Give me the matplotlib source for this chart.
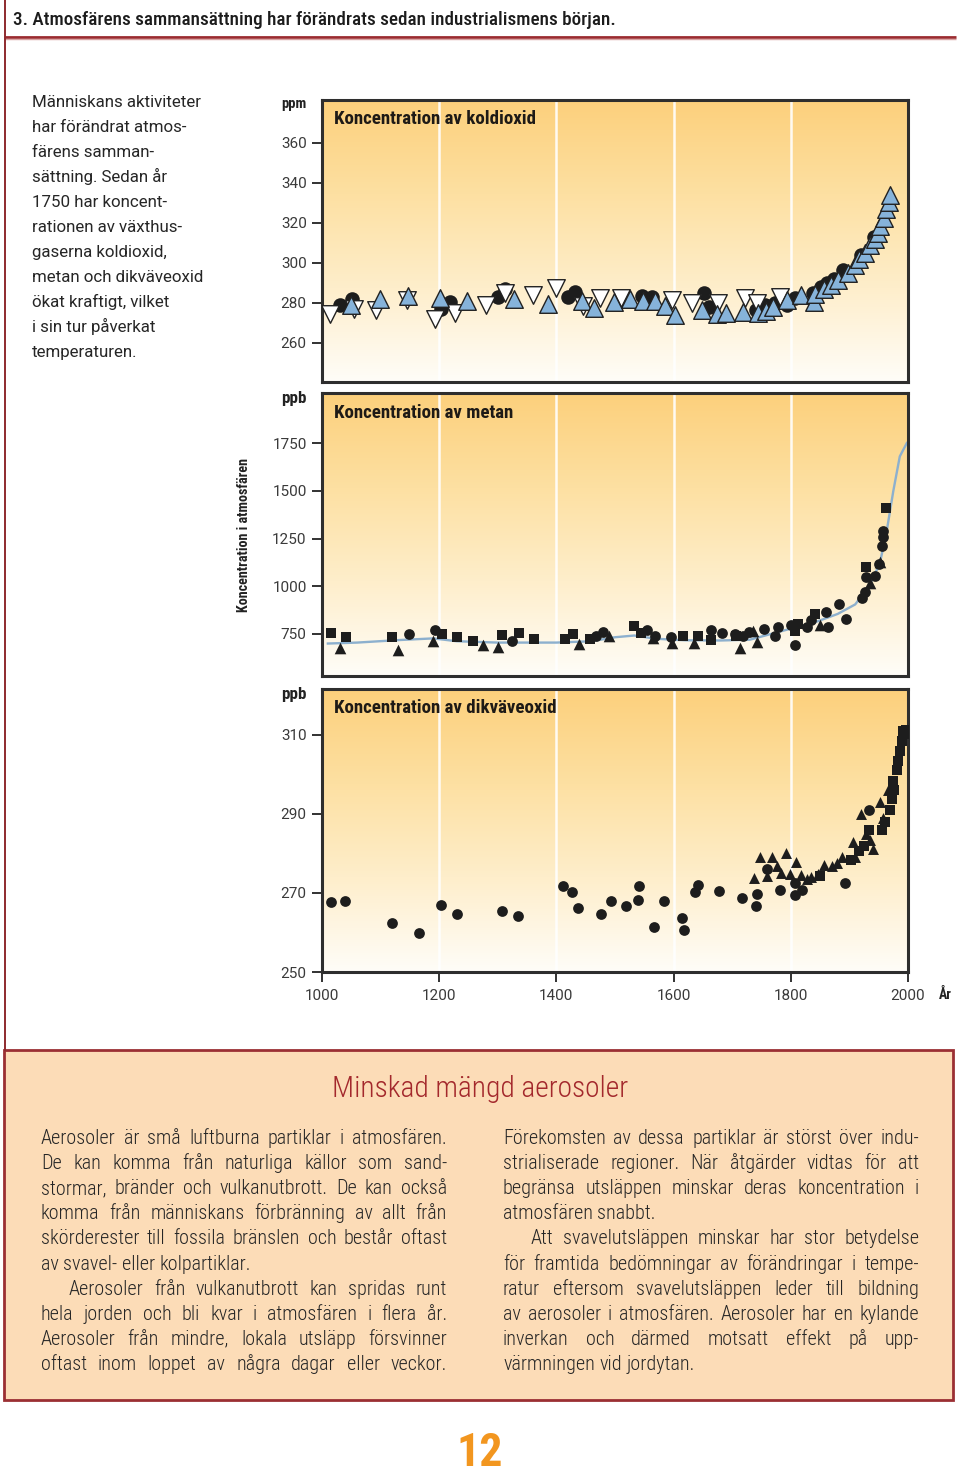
import matplotlib
matplotlib.use("Agg")
import matplotlib.pyplot as plt
import matplotlib.font_manager as fm
from matplotlib.colors import LinearSegmentedColormap
from matplotlib.patches import Rectangle
import numpy as np

# ---------------- data ----------------
years_ticks = [1000, 1200, 1400, 1600, 1800, 2000]
grid_years = [1200, 1400, 1600, 1800]

co2_ticks = [260, 280, 300, 320, 340, 360]
co2_circ_yr = [1031, 1052, 1203, 1218, 1301, 1313, 1420, 1431, 1546, 1563, 1652, 1661,
               1740, 1756, 1773, 1793, 1808, 1838, 1851, 1861, 1874, 1889, 1920, 1942]
co2_circ_val = [279, 281.8, 277, 280.3, 282.8, 286.8, 282.8, 285.5, 283.7, 283.2, 285.2, 277.8,
                276.5, 279, 280, 279, 282.3, 285.2, 288.2, 289.8, 291.8, 296.5, 304, 313.2]
co2_wt_yr = [1014, 1055, 1093, 1145, 1192, 1227, 1280, 1313, 1360, 1399, 1446, 1474,
             1510, 1598, 1631, 1676, 1721, 1742, 1781]
co2_wt_val = [274.5, 277.2, 276.5, 281.5, 271.8, 275.2, 279, 285.2, 283.8, 287.5, 278.5, 282.3,
              282.5, 281.4, 280.2, 280, 282.3, 280, 283.1]
co2_bt_yr = [1050, 1099, 1146, 1201, 1247, 1328, 1386, 1444, 1465, 1499, 1526, 1548,
             1568, 1585, 1602, 1648, 1674, 1689, 1719, 1744, 1757, 1770, 1793, 1818,
             1840, 1842, 1856, 1869, 1880, 1897, 1910, 1916, 1926, 1936, 1943, 1949,
             1952, 1959, 1963, 1967, 1970]
co2_bt_val = [279, 281.8, 283.5, 282.3, 281.2, 281.8, 279.3, 281, 277.7, 280.5, 282, 281.2,
              281.2, 278.5, 274, 276.6, 274.5, 275.2, 275.7, 275.2, 276, 278.2, 281.5, 284,
              280.7, 284.5, 286.8, 289, 291.5, 295.2, 299, 301.8, 305.2, 309, 312, 315.2,
              318.5, 322.7, 326.8, 330.7, 334]

ch4_ticks = [750, 1000, 1250, 1500, 1750]
ch4_sq_yr = [1016, 1041, 1119, 1204, 1231, 1257, 1308, 1337, 1362, 1415, 1429, 1457,
             1532, 1545, 1616, 1641, 1663, 1706, 1808, 1812, 1842, 1928, 1962]
ch4_sq_val = [757, 736, 734, 748, 734, 715, 745, 757, 724, 726, 748, 723,
              790, 755, 738, 738, 720, 738, 764, 802, 856, 1101, 1411]
ch4_tri_yr = [1031, 1130, 1190, 1274, 1301, 1439, 1489, 1565, 1597, 1634, 1713, 1736,
              1742, 1849, 1935, 1952]
ch4_tri_val = [675, 668, 715, 692, 683, 698, 741, 727, 705, 703, 675, 764,
               710, 797, 1015, 1129]
ch4_circ_yr = [1148, 1192, 1324, 1467, 1480, 1554, 1569, 1595, 1663, 1682, 1705, 1718,
               1728, 1755, 1773, 1779, 1801, 1807, 1828, 1834, 1860, 1863, 1882, 1895,
               1921, 1927, 1928, 1943, 1951, 1955, 1957, 1958]
ch4_circ_val = [750, 769, 712, 741, 759, 773, 738, 734, 769, 755, 750, 741,
                760, 776, 741, 786, 799, 692, 786, 825, 863, 786, 905, 827,
                940, 972, 1050, 1055, 1116, 1211, 1256, 1291]
ch4_fit_yr = [1010, 1060, 1130, 1190, 1230, 1300, 1400, 1460, 1500, 1533, 1570, 1620,
              1680, 1730, 1760, 1800, 1840, 1880, 1910, 1935, 1952, 1964, 1975, 1986, 1998]
ch4_fit_val = [700, 705, 718, 727, 712, 705, 705, 712, 733, 742, 725, 717,
               716, 720, 745, 778, 810, 855, 905, 1010, 1120, 1295, 1500, 1680, 1750]

n2o_ticks = [250, 270, 290, 310]
n2o_circ_yr = [1016, 1039, 1120, 1165, 1203, 1230, 1307, 1335, 1411, 1427, 1437, 1476,
               1494, 1518, 1540, 1541, 1567, 1584, 1615, 1618, 1636, 1641, 1678, 1716,
               1740, 1743, 1759, 1782, 1808, 1808, 1819, 1892, 1933]
n2o_circ_val = [267.8, 268, 262.3, 259.8, 266.9, 264.7, 265.5, 264.2, 271.7, 270.2, 266.3, 264.6,
                268, 266.7, 268.2, 271.7, 261.5, 268, 263.7, 260.5, 270.2, 272, 270.4, 268.8,
                266.8, 269.8, 276.1, 270.7, 272.5, 269.4, 270.8, 272.4, 291.1]
n2o_tri_yr = [1737, 1747, 1759, 1768, 1776, 1784, 1791, 1799, 1809, 1817, 1827, 1835,
              1846, 1857, 1870, 1879, 1887, 1906, 1910, 1919, 1928, 1936, 1940, 1953,
              1957, 1966]
n2o_tri_val = [273.9, 279, 274.3, 279, 276.8, 275.1, 280, 274.8, 277.8, 274.6, 273.5, 274.1,
               274.8, 277.1, 276.8, 277.7, 279.2, 282.8, 279.2, 289.9, 284.9, 283.4, 281.1, 293.1,
               289, 296.1]
n2o_sq_yr = [1849, 1902, 1917, 1925, 1934, 1955, 1961, 1969, 1972, 1974, 1976, 1981,
             1983, 1986, 1990, 1992, 1994, 1996]
n2o_sq_val = [274.4, 278.3, 280.7, 282, 285.9, 285.9, 288, 291.1, 293.8, 298.4, 296.1, 301,
              303.5, 306, 308.5, 311, 310.2, 311.2]

header = "3. Atmosfärens sammansättning har förändrats sedan industrialismens början."
intro_lines = ["Människans aktiviteter", "har förändrat atmos-", "färens samman-",
               "sättning. Sedan år", "1750 har koncent-", "rationen av växthus-",
               "gaserna koldioxid,", "metan och dikväveoxid", "ökat kraftigt, vilket",
               "i sin tur påverkat", "temperaturen."]
panel_titles = ["Koncentration av koldioxid", "Koncentration av metan",
                "Koncentration av dikväveoxid"]
box_title = "Minskad mängd aerosoler"
# (indent, justified, text)
left_col = [
    (0, True, "Aerosoler är små luftburna partiklar i atmosfären."),
    (0, True, "De kan komma från naturliga källor som sand-"),
    (0, True, "stormar, bränder och vulkanutbrott. De kan också"),
    (0, True, "komma från människans förbränning av allt från"),
    (0, True, "skörderester till fossila bränslen och består oftast"),
    (0, False, "av svavel- eller kolpartiklar."),
    (28, True, "Aerosoler från vulkanutbrott kan spridas runt"),
    (0, True, "hela jorden och bli kvar i atmosfären i flera år."),
    (0, True, "Aerosoler från mindre, lokala utsläpp försvinner"),
    (0, True, "oftast inom loppet av några dagar eller veckor."),
]
right_col = [
    (0, True, "Förekomsten av dessa partiklar är störst över indu-"),
    (0, True, "strialiserade regioner. När åtgärder vidtas för att"),
    (0, True, "begränsa utsläppen minskar deras koncentration i"),
    (0, False, "atmosfären snabbt."),
    (28, True, "Att svavelutsläppen minskar har stor betydelse"),
    (0, True, "för framtida bedömningar av förändringar i tempe-"),
    (0, True, "ratur eftersom svavelutsläppen leder till bildning"),
    (0, True, "av aerosoler i atmosfären. Aerosoler har en kylande"),
    (0, True, "inverkan och därmed motsatt effekt på upp-"),
    (0, False, "värmningen vid jordytan."),
]

# ---------------- fonts ----------------
def pick(cands):
    for c in cands:
        try:
            fm.findfont(fm.FontProperties(family=c), fallback_to_default=False)
            return c
        except ValueError:
            continue
    return "DejaVu Sans"


def wnum(w):
    return fm.weight_dict.get(w, 400) if isinstance(w, str) else int(w)


def narrow(weight):
    # any installed condensed / narrow face, closest to the weight asked for
    cands = [f for f in fm.fontManager.ttflist
             if f.style == "normal" and ("Condensed" in f.name or "Narrow" in f.name
                                         or "ondensed" in f.fname or "Narrow" in f.fname
                                         or str(f.stretch) in ("condensed", "semi-condensed"))]
    if not cands:
        return fm.FontProperties(family=[PLAIN, "DejaVu Sans"], weight=weight)
    order = ["Roboto", "Liberation", "DejaVu", "Open Sans", "Noto"]
    def rank(f):
        fam = next((i for i, k in enumerate(order) if k in f.name), len(order))
        return (fam, abs(wnum(f.weight) - wnum(weight)))
    best = min(cands, key=rank)
    return fm.FontProperties(fname=best.fname)


PLAIN = pick(["Roboto", "Lato", "Open Sans", "Liberation Sans", "DejaVu Sans"])
plt.rcParams["font.family"] = [PLAIN, "DejaVu Sans"]
N_LIGHT = narrow("light")
N_MED = narrow("medium")
N_BOLD = narrow("bold")

W, H = 960, 1476
fig = plt.figure(figsize=(W / 100, H / 100), dpi=100)
fig.patch.set_facecolor("white")
page = fig.add_axes([0, 0, 1, 1])
page.set_xlim(0, W)
page.set_ylim(H, 0)
page.axis("off")
R = fig.canvas.get_renderer()


def fit(t, target, dim="w"):
    bb = t.get_window_extent(R)
    cur = bb.width if dim == "w" else bb.height
    t.set_fontsize(t.get_fontsize() * target / cur)
    return t


def measure(s, **kw):
    t = page.text(0, 0, s, **kw)
    w = t.get_window_extent(R).width
    t.remove()
    return w


def fp(base, size):
    p = base.copy()
    p.set_size(size)
    return p


# ---------------- page decoration ----------------
page.plot([4, 956], [36.5, 36.5], color="#9b2b30", lw=2.0, solid_capstyle="butt")
page.plot([4, 956], [38.5, 38.5], color="#d9a3a3", lw=1.0, solid_capstyle="butt")
page.plot([4.5, 4.5], [0, 1050], color="#8e2a2e", lw=1.4)

t = page.text(13, 25, header, va="baseline", fontproperties=fp(N_MED, 14), color="#1c1c1c")
fit(t, 603)

w = measure(intro_lines[7], fontsize=12)
fs_intro = 12 * 171 / w
for i, line in enumerate(intro_lines):
    page.text(32, 107 + 25 * i, line, va="baseline", fontsize=fs_intro, color="#262626")

# ---------------- panels ----------------
bg = LinearSegmentedColormap.from_list("bg", ["#fffdf8", "#feeecb", "#fde0a2", "#fcd07c"])
grad = np.linspace(0, 1, 256).reshape(-1, 1)


def panel(top, bottom, ylo, yhi, yticks):
    ax = fig.add_axes([322 / W, 1 - bottom / H, 586 / W, (bottom - top) / H])
    ax.imshow(grad, cmap=bg, origin="lower", extent=(0, 1, 0, 1), transform=ax.transAxes,
              aspect="auto", zorder=0, interpolation="bilinear")
    for yr in grid_years:
        ax.axvline(yr, color="white", lw=1.8, alpha=0.9, zorder=1)
    ax.set_xlim(1000, 2000)
    ax.set_ylim(ylo, yhi)
    ax.set_yticks(yticks)
    ax.set_xticks([])
    for s in ax.spines.values():
        s.set_linewidth(2.2)
        s.set_color("#2e2e2e")
    ax.tick_params(axis="y", length=7, width=1.3, pad=4, color="#222222",
                   labelcolor="#3a3a3a", labelsize=11)
    return ax


ax1 = panel(100, 382, 240.5, 381.5, co2_ticks)
ax1.scatter(co2_circ_yr, co2_circ_val, s=110, marker="o", color="#1d1d1d", zorder=3, lw=0)
ax1.scatter(co2_wt_yr, co2_wt_val, s=160, marker="v", facecolor="white",
            edgecolor="#222222", lw=1.0, zorder=4)
ax1.scatter(co2_bt_yr, co2_bt_val, s=160, marker="^", facecolor="#86b3da",
            edgecolor="#222222", lw=1.0, zorder=5)

ax2 = panel(393, 676, 530, 2012, ch4_ticks)
ax2.plot(ch4_fit_yr, ch4_fit_val, color="#8db0ce", lw=1.7, zorder=2)
ax2.scatter(ch4_sq_yr, ch4_sq_val, s=50, marker="s", color="#1d1d1d", lw=0, zorder=3)
ax2.scatter(ch4_tri_yr, ch4_tri_val, s=70, marker="^", color="#1d1d1d", lw=0, zorder=3)
ax2.scatter(ch4_circ_yr, ch4_circ_val, s=60, marker="o", color="#1d1d1d", lw=0, zorder=3)

ax3 = panel(689, 972, 250, 321.6, n2o_ticks)
ax3.scatter(n2o_circ_yr, n2o_circ_val, s=60, marker="o", color="#1d1d1d", lw=0, zorder=3)
ax3.scatter(n2o_tri_yr, n2o_tri_val, s=62, marker="^", color="#1d1d1d", lw=0, zorder=3)
ax3.scatter(n2o_sq_yr, n2o_sq_val, s=48, marker="s", color="#1d1d1d", lw=0, zorder=3)
ax3.set_xticks(years_ticks)
ax3.set_xticklabels([str(y) for y in years_ticks])
ax3.tick_params(axis="x", length=7, width=1.3, pad=5, color="#222222",
                labelcolor="#3a3a3a", labelsize=11)

# overlay for text that sits on top of the panels
over = fig.add_axes([0, 0, 1, 1], zorder=10)
over.set_xlim(0, W)
over.set_ylim(H, 0)
over.axis("off")

for y, u in [(104, "ppm"), (399, "ppb"), (694, "ppb")]:
    t = over.text(294, y, u, ha="center", va="center", fontproperties=fp(N_BOLD, 9),
                  color="#222222")
    fit(t, 25)
fs_title = None
for y, s in zip([124, 418, 713], panel_titles):
    t = over.text(334, y, s, va="baseline", fontproperties=fp(N_BOLD, 12), color="#1e1a16")
    if fs_title is None:
        fit(t, 203)
        fs_title = t.get_fontsize()
    t.set_fontsize(fs_title)

over.text(945, 995, "År", ha="center", va="center", fontproperties=fp(N_BOLD, 10),
          color="#222222")
t = over.text(244, 535, "Koncentration i atmosfären", ha="center", va="center", rotation=90,
              fontproperties=fp(N_BOLD, 10), color="#222222")
fit(t, 154, dim="h")

# ---------------- aerosol box ----------------
page.add_patch(Rectangle((4, 1050), 949, 350, facecolor="#fcdcb7", edgecolor="#9b2f33", lw=2))
t = page.text(480, 1097, box_title, ha="center", va="baseline", fontproperties=fp(N_LIGHT, 18),
              color="#a3282c")
fit(t, 297)

widest = max(measure(l[2], fontproperties=fp(N_LIGHT, 12)) for l in left_col + right_col)
fs_body = min(14.5, 12 * 400 / widest)


def set_column(lines, x0, x1, base0):
    sp = (measure("n n", fontproperties=fp(N_LIGHT, fs_body))
          - measure("nn", fontproperties=fp(N_LIGHT, fs_body)))
    for i, (indent, just, line) in enumerate(lines):
        y = base0 + 25.1 * i
        words = line.split()
        widths = [measure(w, fontproperties=fp(N_LIGHT, fs_body)) for w in words]
        x = x0 + indent
        gap = (x1 - x - sum(widths)) / (len(words) - 1) if just and len(words) > 1 else sp
        for w, wd in zip(words, widths):
            page.text(x, y, w, va="baseline", fontproperties=fp(N_LIGHT, fs_body),
                      color="#262626")
            x += wd + gap


set_column(left_col, 41, 447, 1144)
set_column(right_col, 503, 919, 1144)

page.text(480, 1466, "12", ha="center", va="baseline", fontproperties=fp(N_BOLD, 33),
          color="#f2961f")

fig.savefig("out.png", dpi=100)
